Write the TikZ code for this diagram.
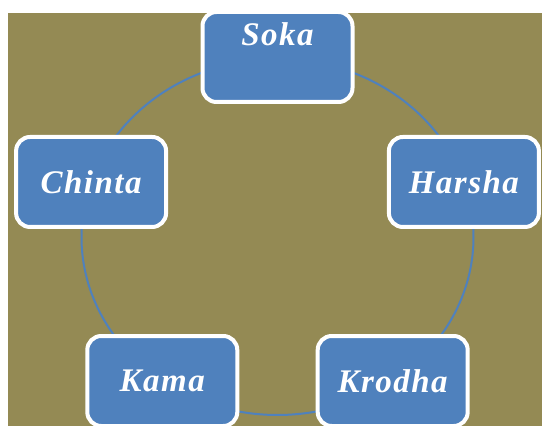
\documentclass[tikz,border=0pt]{standalone}
\usepackage{fontspec}
\setmainfont{Liberation Serif}
\newfontfamily\petalfont[LetterSpace=4.5]{Liberation Serif}
\usetikzlibrary{calc}

\definecolor{olivebg}{RGB}{148,138,84}
\definecolor{petalblue}{RGB}{79,129,189}

\tikzset{
  petal/.style={draw=white, line width=4pt, fill=petalblue, rounded corners=14pt,
    minimum width=150pt, minimum height=90pt},
  petaltext/.style={text=white, font=\petalfont\bfseries\itshape\fontsize{33}{36}\selectfont, inner sep=0pt},
  ring/.style={draw=petalblue, line width=2pt}
}

\begin{document}
\begin{tikzpicture}[x=1pt, y=1pt]
        \useasboundingbox (0,0) rectangle (542,426);
        % background
        \fill[olivebg] (8,0) rectangle (542,413);
        % cycle ring
        \coordinate (ctr) at (277.5,189);
        \draw[ring] (ctr) ellipse [x radius=196pt, y radius=178pt];
        % boxes on the ring
        \node[petal] (soka)   at ($(ctr)+(90:196pt and 180pt)$)  {};
        \node[petal] (harsha) at ($(ctr)+(18:196pt and 178pt)$)  {};
        \node[petal] (krodha) at ($(ctr)+(306:196pt and 178pt)$) {};
        \node[petal] (kama)   at ($(ctr)+(234:196pt and 178pt)$) {};
        \node[petal] (chinta) at ($(ctr)+(162:196pt and 178pt)$) {};
        % labels
        \node[petaltext] (sokatext)   at ([yshift=23pt]soka.center) {Soka};
        \node[petaltext] (harshatext) at (harsha.center) {Harsha};
        \node[petaltext] (krodhatext) at (krodha.center) {Krodha};
        \node[petaltext] (kamatext)   at (kama.center)   {Kama};
        \node[petaltext] (chintatext) at (chinta.center) {Chinta};
\end{tikzpicture}
\end{document}
